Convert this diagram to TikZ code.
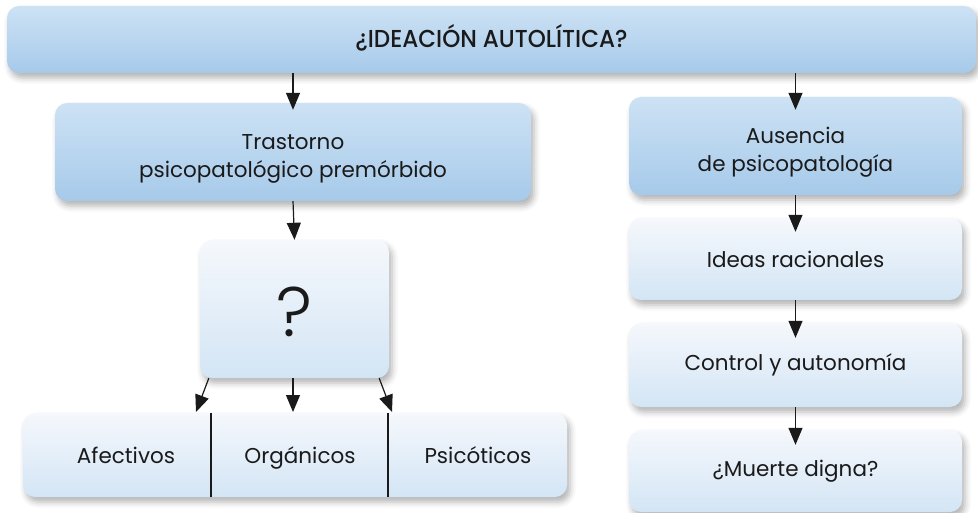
\documentclass[tikz,border=0pt]{standalone}
\usepackage{fontspec}
\setmainfont{Poppins}
\newfontfamily\thinfont{Poppins Light}
\newfontfamily\midfont{Poppins Medium}
\usepackage{tikz}
\usetikzlibrary{arrows.meta, shadows.blur}

\definecolor{blueTop}{HTML}{CDE2F4}
\definecolor{blueBot}{HTML}{A6CAEA}
\definecolor{paleTop}{HTML}{F5F8FC}
\definecolor{paleBot}{HTML}{D3E5F5}
\definecolor{ink}{HTML}{1A1A1A}

\begin{document}
\begin{tikzpicture}[x=1pt, y=-1pt,
  box/.style={rectangle, rounded corners=12pt, inner sep=0pt, align=center,
    text=ink, font=\fontsize{21.5}{28}\selectfont,
    blur shadow={shadow xshift=3pt, shadow yshift=-5pt,
      shadow blur radius=6pt, shadow opacity=30}},
  %
  dark/.style={box, top color=blueTop, bottom color=blueBot},
  %
  pale/.style={box, top color=paleTop, bottom color=paleBot},
  %
  twolines/.style={text height=52pt, text depth=0pt},
  %
  label/.style={text=ink, font=\fontsize{21.5}{28}\selectfont, inner sep=0pt,
    anchor=base},
  %
  arrow/.style={-{Triangle[length=17pt, width=14pt]}, line width=1.2pt, ink}
  ]

  \useasboundingbox (0,0) rectangle (978,513);

  \begin{scope}
    \node [dark, text height=17pt, text depth=0pt, minimum width=969,
      minimum height=67] (ideacion) at (491.5,39.5)
      {\scalebox{0.94}[1]{\midfont\fontsize{24.5}{26}\selectfont ¿IDEACIÓN AUTOLÍTICA?}};
    %%%%%%%%%%%%%%%%%%%%%%%%%%%%%%%
    \node [dark, twolines, minimum width=476, minimum height=98] (trastorno) at (293,152)
      {Trastorno\\psicopatológico premórbido};
    \node [pale, text height=56pt, text depth=0pt, minimum width=189,
      minimum height=138] (duda) at (294.5,309)
      {\thinfont\fontsize{70}{70}\selectfont ?};
    \node [pale, minimum width=544, minimum height=84] (fila) at (295,455) {};
    \node [label] (afectivos) at (126,463) {Afectivos};
    \node [label] (organicos) at (300,463) {Orgánicos};
    \node [label] (psicoticos) at (478,463) {Psicóticos};
    %%%%%%%%%%%%%%%%%%%%%%%%%%%%%%%
    \node [dark, twolines, minimum width=333, minimum height=98] (ausencia) at (795.5,146)
      {Ausencia\\de psicopatología};
    \node [pale, minimum width=333, minimum height=82] (ideas) at (795.5,259)
      {Ideas racionales};
    \node [pale, minimum width=333, minimum height=84] (control) at (795.5,365)
      {Control y autonomía};
    \node [pale, minimum width=333, minimum height=82] (muerte) at (795.5,471)
      {¿Muerte digna?};
  \end{scope}

  \begin{scope}
    \coordinate (sepA) at (211,413);
    \coordinate (sepB) at (388,413);
    \draw [line width=1.2pt, ink] (sepA) -- (sepA |- fila.south);
    \draw [line width=1.2pt, ink] (sepB) -- (sepB |- fila.south);

    \coordinate (tipA) at (196,412);
    \coordinate (tipB) at (293,412);
    \coordinate (tipC) at (392,412);

    \draw [arrow, shorten >=-7pt] (ideacion.south -| trastorno) -- (trastorno.north);
    \draw [arrow, shorten >=-13pt] (ideacion.south -| ausencia) -- (ausencia.north);
    \draw [arrow] (trastorno.south) -- (duda.north);
    \draw [arrow] ([xshift=9pt]duda.south west) -- (tipA);
    \draw [arrow] (duda.south -| tipB) -- (tipB);
    \draw [arrow] ([xshift=-10pt]duda.south east) -- (tipC);
    \draw [arrow, shorten >=-14pt] (ausencia) -- (ideas);
    \draw [arrow, shorten >=-15pt] (ideas) -- (control);
    \draw [arrow, shorten >=-15pt] (control) -- (muerte);
  \end{scope}

\end{tikzpicture}
\end{document}
